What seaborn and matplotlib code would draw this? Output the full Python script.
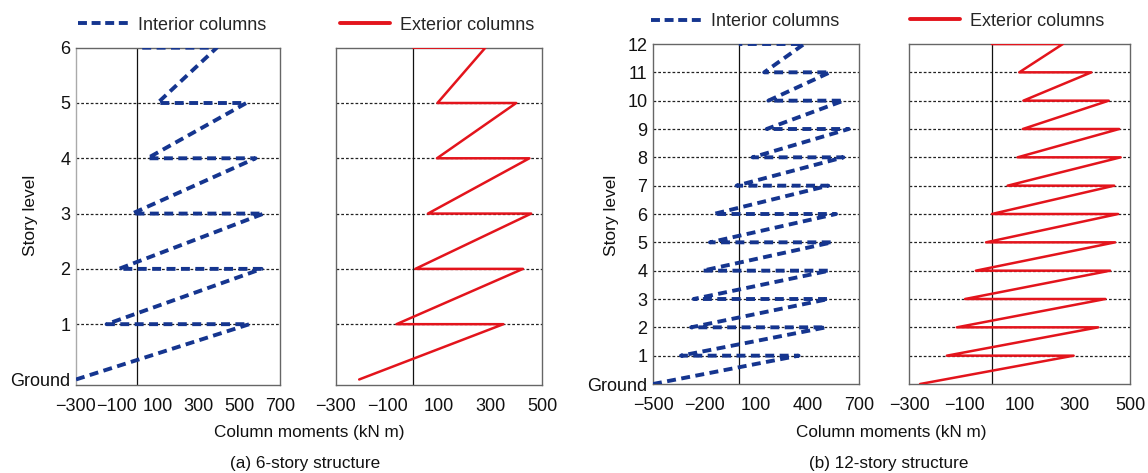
import numpy as np
import pandas as pd
import matplotlib
matplotlib.use("Agg")
import matplotlib.pyplot as plt
from matplotlib.lines import Line2D
import seaborn as sns

sns.set_theme(style="white")
plt.rcParams["font.family"] = ["Liberation Sans", "DejaVu Sans"]
plt.rcParams["axes.unicode_minus"] = True

# Column moments (kN m) at each story level: value at the right (max) end and
# the left (min) end of the zig-zag, plus the moment at the ground.
levels_6 = [1, 2, 3, 4, 5, 6]
int6_ground = -300
int6_right = [550, 610, 620, 580, 535, 390]
int6_left = [-150, -90, -25, 50, 100, 0]
ext6_ground = -210
ext6_right = [350, 426, 458, 451, 400, 280]
ext6_left = [-65, 8, 57, 92, 94, 0]

levels_12 = list(range(1, 13))
int12_ground = -500
int12_right = [348, 508, 523, 527, 543, 566, 521, 609, 640, 610, 531, 380]
int12_left = [-337, -278, -263, -211, -168, -147, -13, 80, 162, 172, 148, 0]
ext12_ground = -260
ext12_right = [296, 385, 411, 428, 446, 457, 443, 466, 461, 423, 360, 257]
ext12_left = [-163, -127, -97, -58, -21, 0, 57, 93, 112, 114, 99, 0]

xticks_6_int = [-300, -100, 100, 300, 500, 700]
xticks_6_ext = [-300, -100, 100, 300, 500]
xticks_12_int = [-500, -200, 100, 400, 700]
xticks_12_ext = [-300, -100, 100, 300, 500]

BLUE = "#15358f"
RED = "#e3141c"
W, H = 1148, 473


def zigzag(ground, levels, right, left):
    xs, ys = [ground], [0]
    for lv, r, l in zip(levels, right, left):
        xs += [r, l]
        ys += [lv, lv]
    return pd.DataFrame({"moment": xs, "level": ys, "order": np.arange(len(xs))})


def px_axes(fig, x0, x1, ytop, ybot):
    return fig.add_axes([x0 / W, 1 - ybot / H, (x1 - x0) / W, (ybot - ytop) / H])


fig = plt.figure(figsize=(W / 100, H / 100), dpi=100)
fig.patch.set_facecolor("white")

panels = [
    # (x0, x1, ytop, ybot, data, xlim, xticks, nlev, style, ylabels, ylim)
    (76, 280, 47.7, 385, zigzag(int6_ground, levels_6, int6_right, int6_left),
     (-300, 700), xticks_6_int, 6, "int", True, (-0.1, 6)),
    (336, 542, 47.7, 385, zigzag(ext6_ground, levels_6, ext6_right, ext6_left),
     (-300, 500), xticks_6_ext, 6, "ext", False, (-0.1, 6)),
    (653, 859, 44, 384, zigzag(int12_ground, levels_12, int12_right, int12_left),
     (-500, 700), xticks_12_int, 12, "int", True, (0, 12)),
    (909, 1130, 44, 384, zigzag(ext12_ground, levels_12, ext12_right, ext12_left),
     (-300, 500), xticks_12_ext, 12, "ext", False, (0, 12)),
]

axes = []
for x0, x1, yt, yb, df, xlim, xt, nlev, kind, ylab, ylim in panels:
    ax = px_axes(fig, x0, x1, yt, yb)
    axes.append(ax)
    ax.set_xlim(*xlim)
    ax.set_ylim(*ylim)
    # dotted floor lines and the zero-moment reference
    for lv in range(1, nlev):
        ax.axhline(lv, color="#222222", lw=0.9, ls=(0, (2.2, 1.6)), zorder=1)
    ax.axvline(0, color="#111111", lw=0.9, zorder=1)
    if kind == "int":
        sns.lineplot(data=df, x="moment", y="level", sort=False, estimator=None,
                     color=BLUE, lw=2.8, ax=ax, zorder=3)
        ax.lines[-1].set_dashes((2.3, 1.4))
    else:
        sns.lineplot(data=df, x="moment", y="level", sort=False, estimator=None,
                     color=RED, lw=1.8, ax=ax, zorder=3)
    ax.set_xticks(xt)
    ax.set_xticklabels([f"{v:d}".replace("-", "\u2212") for v in xt])
    ax.tick_params(axis="x", length=0, pad=9, labelsize=13, colors="#111111")
    if ylab:
        ax.set_yticks(range(0, nlev + 1))
        ax.set_yticklabels(["Ground"] + [str(i) for i in range(1, nlev + 1)])
        ax.tick_params(axis="y", length=0, pad=4, labelsize=13, colors="#111111")
    else:
        ax.set_yticks([])
    ax.set_ylabel("")
    ax.set_xlabel("")
    for side, sp in ax.spines.items():
        sp.set_color("#666666")
        sp.set_linewidth(1.0)
        sp.set_visible(True)
    if ax is axes[0]:
        ax.spines["left"].set_color("#aaaaaa")
    ax.set_facecolor("white")

# legends above each panel
int_handle = Line2D([], [], color=BLUE, lw=2.8, dashes=(2.3, 1.2))
ext_handle = Line2D([], [], color=RED, lw=2.8)
for (xh, yh, h, lab) in [(78, 25, int_handle, "Interior columns"),
                         (340, 25, ext_handle, "Exterior columns"),
                         (651, 22, int_handle, "Interior columns"),
                         (910, 21, ext_handle, "Exterior columns")]:
    fig.legend([h], [lab], loc="center left", bbox_to_anchor=(xh / W, 1 - yh / H),
               frameon=False, fontsize=13, borderpad=0, borderaxespad=0,
               handlelength=2.75, handletextpad=0.55)

for xs, ys in [(30, 215), (612, 215)]:
    fig.text(xs / W, 1 - ys / H, "Story level", rotation=90, ha="center",
             va="center", fontsize=12.5, color="#111111")

fig.text(309 / W, 1 - 432 / H, "Column moments (kN m)", ha="center", va="center",
         fontsize=12.3, color="#111111")
fig.text(891 / W, 1 - 432 / H, "Column moments (kN m)", ha="center", va="center",
         fontsize=12.3, color="#111111")
fig.text(305 / W, 1 - 463 / H, "(a) 6-story structure", ha="center", va="center",
         fontsize=12.3, color="#111111")
fig.text(889 / W, 1 - 463 / H, "(b) 12-story structure", ha="center", va="center",
         fontsize=12.3, color="#111111")

fig.savefig("out.png", dpi=100, facecolor="white")
